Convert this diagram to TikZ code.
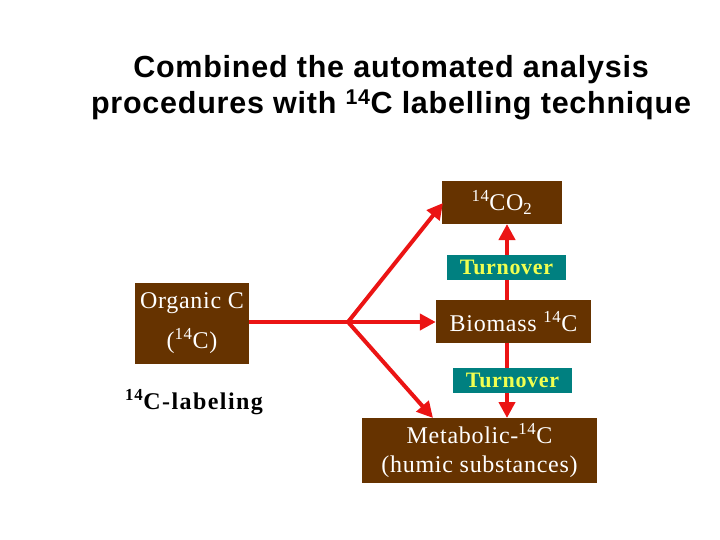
\documentclass[tikz,border=0pt]{standalone}
\usepackage{fontspec}
\setmainfont{Liberation Serif}
\newfontfamily\titlefont[LetterSpace=2.5]{Liberation Sans}
\newfontfamily\boxfont[LetterSpace=3]{Liberation Serif}
\newfontfamily\turnfont[LetterSpace=3]{Liberation Serif}
\newfontfamily\labfont[LetterSpace=6]{Liberation Serif}
\usetikzlibrary{arrows.meta}
\definecolor{boxbrown}{RGB}{102,51,0}
\definecolor{tealbox}{RGB}{0,128,128}
\definecolor{turnyellow}{RGB}{240,255,80}
\definecolor{arrowred}{RGB}{235,20,20}
\tikzset{
  brownbox/.style={fill=boxbrown, text=white, inner sep=0pt, align=center,
    font=\boxfont\fontsize{24}{40}\selectfont},
  turnbox/.style={fill=tealbox, text=turnyellow, inner sep=0pt,
    minimum width=119pt, minimum height=25pt,
    font=\turnfont\bfseries\fontsize{22}{24}\selectfont},
  conn/.style={draw=arrowred, line width=4pt},
  arr/.style={conn, -{Triangle[length=16pt,width=16pt]}},
  titletext/.style={font=\titlefont\bfseries\fontsize{30.5}{36}\selectfont, anchor=base, inner sep=0pt}
}
\begin{document}
\begin{tikzpicture}[x=1pt,y=-1pt]
\useasboundingbox (0,0) rectangle (720,540);
\node[titletext] (t1) at (391,78) {Combined the automated analysis};
\node[titletext] (t2) at (391,114) {procedures with \textsuperscript{14}C labelling technique};

\node[brownbox, minimum width=114pt, minimum height=81pt] (org) at (192,323.5)
  {Organic C\\(\textsuperscript{14}C)};
\node[font=\labfont\bfseries\fontsize{24}{26}\selectfont, inner sep=0pt] (lab) at (194,402)
  {\textsuperscript{14}C-labeling};
\node[brownbox, minimum width=120pt, minimum height=43pt] (co2) at (502,202.5)
  {\textsuperscript{14}CO\textsubscript{2}};
\node[brownbox, minimum width=155pt, minimum height=43pt] (bio) at (513.5,321.5)
  {Biomass \textsuperscript{14}C};
\node[brownbox, minimum width=235pt, minimum height=65pt,
  font=\boxfont\fontsize{24}{29}\selectfont] (met) at (479.5,450.5)
  {Metabolic-\textsuperscript{14}C\\(humic substances)};

\coordinate (br) at (348,322);
\coordinate (co2in) at (443,203);
\coordinate (metin) at (433,418);
\coordinate (bioTop) at (507,300);
\coordinate (co2Bot) at (507,224);
\coordinate (bioBot) at (507,343);
\coordinate (metTop) at (507,418);

\draw[conn] (org.east |- br) -- (br);
\draw[arr] (br) -- (co2in);
\draw[arr] (br) -- (bio.west |- br);
\draw[arr] (br) -- (metin);
\draw[arr] (bioTop) -- (co2Bot);
\draw[arr] (bioBot) -- (metTop);

\node[turnbox] (turn1) at (506.5,267.5) {Turnover};
\node[turnbox] (turn2) at (512.5,380.5) {Turnover};
\end{tikzpicture}
\end{document}
